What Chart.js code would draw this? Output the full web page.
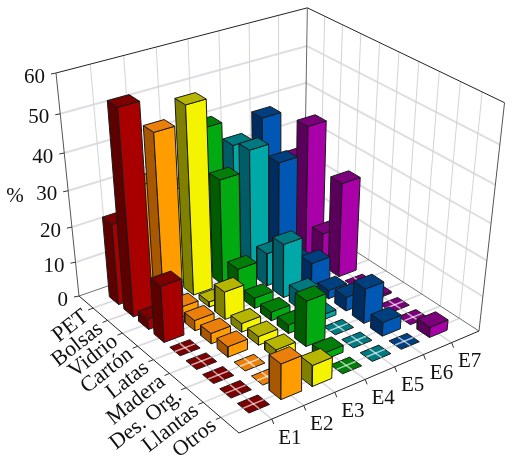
<!DOCTYPE html>
<html>
<head>
<meta charset="utf-8">
<script src="https://cdn.jsdelivr.net/npm/chart.js@4"></script>
<style>
  html, body { margin: 0; padding: 0; background: #fff; }
  canvas { display: block; }
</style>
</head>
<body>
<canvas id="chart" width="514" height="458"></canvas>
<script>
const categories = ["PET", "Bolsas", "Vidrio", "Cartón", "Latas", "Madera", "Des. Org.", "Llantas", "Otros"];
const seriesNames = ["E1", "E2", "E3", "E4", "E5", "E6", "E7"];
const valueTicks = [0, 10, 20, 30, 40, 50, 60];

const e1 = [23, 56, 3, 16, 0, 0, 0, 0, 0];
const e2 = [31, 47.5, 3, 3, 3, 3, 0, 0, 10];
const e3 = [27, 52, 1.5, 8, 2.5, 2.5, 2.5, 0, 6];
const e4 = [41, 30, 8, 3, 2.5, 2.5, 13, 2, 0];
const e5 = [34, 35.5, 9.5, 15.5, 5, 1.5, 0, 0, 0];
const e6 = [39, 29.5, 4, 7, 2.5, 4, 10, 4, 0];
const e7 = [25, 37, 9.5, 27, 0, 0.5, 0, 0, 3];
const seriesValues = [e1, e2, e3, e4, e5, e6, e7];

// right, left, top face
const seriesColors = [
  ["#a80000", "#5c0000", "#7c0000"],
  ["#ff9c00", "#a85800", "#ea7f0c"],
  ["#f4f400", "#808000", "#b6b600"],
  ["#00aa10", "#005c00", "#007e08"],
  ["#00a8a8", "#005c66", "#007a80"],
  ["#0058b4", "#002c60", "#004080"],
  ["#aa00aa", "#5a005a", "#7c007c"],
];

// screen position of the box corners, the rest comes from the projection
const A = [79, 296], B = [239, 433], C = [479, 331], D = [304, 218];
const topA = [56, 73], topC = [505, 102], topD = [307, 9];

const catMax = 10, serMax = 8, valMax = 60;
const barHalf = 0.32;

function solve3(m, r) {
  const det = (a) =>
    a[0][0] * (a[1][1] * a[2][2] - a[1][2] * a[2][1]) -
    a[0][1] * (a[1][0] * a[2][2] - a[1][2] * a[2][0]) +
    a[0][2] * (a[1][0] * a[2][1] - a[1][1] * a[2][0]);
  const d = det(m);
  return [0, 1, 2].map((c) => det(m.map((row, i) => row.map((v, j) => (j === c ? r[i] : v)))) / d);
}

const [kB, kD, kC] = solve3(
  [[B[0], D[0], -C[0]], [B[1], D[1], -C[1]], [1, 1, -1]],
  [A[0], A[1], 1]
);

// least squares for the height axis, against both far corners
let num = 0, den = 0;
[[topC, C, kC], [topD, D, kD]].forEach(([t, p, k]) => {
  [0, 1].forEach((n) => {
    const a = topA[n] - t[n];
    const b = A[n] - k * p[n] + (k - 1) * t[n];
    num += a * b;
    den += a * a;
  });
});
const kT = num / den;

const O = [A[0], A[1], 1];
const U = [kB * B[0] - O[0], kB * B[1] - O[1], kB - 1];
const V = [kD * D[0] - O[0], kD * D[1] - O[1], kD - 1];
const W = [kT * topA[0] - O[0], kT * topA[1] - O[1], kT - 1];

function project(cat, ser, val) {
  const u = cat / catMax, s = ser / serMax, w = val / valMax;
  const h = [0, 1, 2].map((n) => O[n] + u * U[n] + s * V[n] + w * W[n]);
  return { x: h[0] / h[2], y: h[1] / h[2] };
}

const datasets = [];

function addLine(points, color, width) {
  datasets.push({
    data: points,
    showLine: true,
    borderColor: color,
    borderWidth: width,
    pointRadius: 0,
    fill: false,
    tension: 0,
  });
}

function addFace(points, fillColor) {
  datasets.push({
    data: points.concat([points[0]]),
    showLine: true,
    borderColor: "#1a1a1a",
    borderWidth: 1,
    backgroundColor: fillColor,
    pointRadius: 0,
    fill: "shape",
    tension: 0,
  });
}

// walls and floor grid
const gridColor = "#d8d8de";
const wallColor = "#d4d4d4";
valueTicks.slice(1, -1).forEach((v) => {
  addLine([project(0, 0, v), project(0, serMax, v), project(catMax, serMax, v)], "#dedee2", 2);
});
seriesNames.forEach((name, j) => {
  addLine([project(0, j + 1, 0), project(0, j + 1, valMax)], wallColor, 1);
  addLine([project(0, j + 1, 0), project(catMax, j + 1, 0)], gridColor, 1.5);
});
categories.forEach((name, i) => {
  addLine([project(i + 1, serMax, 0), project(i + 1, serMax, valMax)], wallColor, 1);
  addLine([project(i + 1, 0, 0), project(i + 1, serMax, 0)], gridColor, 1.5);
});

// frame
addLine([project(0, 0, 0), project(0, serMax, 0), project(catMax, serMax, 0)], "#707070", 1);
addLine([project(0, 0, valMax), project(0, serMax, valMax), project(catMax, serMax, valMax)], "#222", 1);
addLine([project(0, 0, 0), project(0, 0, valMax)], "#555", 1);
addLine([project(0, serMax, 0), project(0, serMax, valMax)], "#666", 1);
addLine([project(catMax, serMax, 0), project(catMax, serMax, valMax)], "#555", 1);
addLine([project(0, 0, 0), project(catMax, 0, 0), project(catMax, serMax, 0)], "#222", 1);

// bars, far ones first
categories.forEach((name, i) => {
  for (let j = seriesNames.length - 1; j >= 0; j--) {
    const v = seriesValues[j][i];
    const c0 = i + 1 - barHalf, c1 = i + 1 + barHalf;
    const s0 = j + 1 - barHalf, s1 = j + 1 + barHalf;
    const [right, left, top] = seriesColors[j];
    if (v > 0) {
      addFace([project(c0, s0, 0), project(c1, s0, 0), project(c1, s0, v), project(c0, s0, v)], left);
      addFace([project(c1, s0, 0), project(c1, s1, 0), project(c1, s1, v), project(c1, s0, v)], right);
    }
    addFace([project(c0, s0, v), project(c1, s0, v), project(c1, s1, v), project(c0, s1, v)], top);
    if (v === 0) {
      // the floor grid shows through the empty bars
      addLine([project(c0, j + 1, 0), project(c1, j + 1, 0)], "rgba(255,255,255,0.65)", 1.5);
      addLine([project(i + 1, s0, 0), project(i + 1, s1, 0)], "rgba(255,255,255,0.65)", 1.5);
    }
  }
});

// ticks
valueTicks.forEach((v) => {
  const p = project(0, 0, v);
  addLine([p, { x: p.x - 5, y: p.y + 1 }], "#333", 1);
});
categories.forEach((name, i) => {
  const p = project(i + 1, 0, 0);
  addLine([p, { x: p.x - 5, y: p.y + 2 }], "#333", 1);
});
seriesNames.forEach((name, j) => {
  const p = project(catMax, j + 1, 0);
  addLine([p, { x: p.x + 2, y: p.y + 5 }], "#333", 1);
});

// first dataset is painted last by chart.js, so keep the order explicit
datasets.forEach((d, n) => {
  d.order = datasets.length - n;
});

const axisLabels = {
  id: "axisLabels",
  afterDraw(chart) {
    const { ctx, scales } = chart;
    const px = (p) => ({ x: scales.x.getPixelForValue(p.x), y: scales.y.getPixelForValue(p.y) });
    ctx.save();
    ctx.fillStyle = "#111";
    ctx.font = '21px "Liberation Serif"';
    ctx.textBaseline = "middle";

    ctx.textAlign = "right";
    valueTicks.forEach((v) => {
      const p = px(project(0, 0, v));
      ctx.fillText(String(v), p.x - 11, p.y + 4);
    });
    ctx.textAlign = "center";
    ctx.fillText("%", 15, 196);

    seriesNames.forEach((name, j) => {
      const p = px(project(catMax, j + 1, 0));
      ctx.fillText(name, p.x + 18, p.y + 19);
    });

    ctx.font = '22px "Liberation Serif"';
    ctx.textAlign = "right";
    categories.forEach((name, i) => {
      const p = px(project(i + 1, 0, 0));
      ctx.save();
      ctx.translate(p.x - 7, p.y + 6);
      ctx.rotate((-38 * Math.PI) / 180);
      ctx.fillText(name, 0, 0);
      ctx.restore();
    });
    ctx.restore();
  },
};

new Chart(document.getElementById("chart"), {
  type: "scatter",
  data: { datasets },
  options: {
    responsive: false,
    animation: false,
    events: [],
    layout: { padding: 0 },
    scales: {
      x: { type: "linear", min: 0, max: 514, display: false },
      y: { type: "linear", min: 0, max: 458, reverse: true, display: false },
    },
    plugins: {
      legend: { display: false },
      tooltip: { enabled: false },
      filler: { drawTime: "beforeDatasetDraw" },
    },
  },
  plugins: [axisLabels],
});
</script>
</body>
</html>
